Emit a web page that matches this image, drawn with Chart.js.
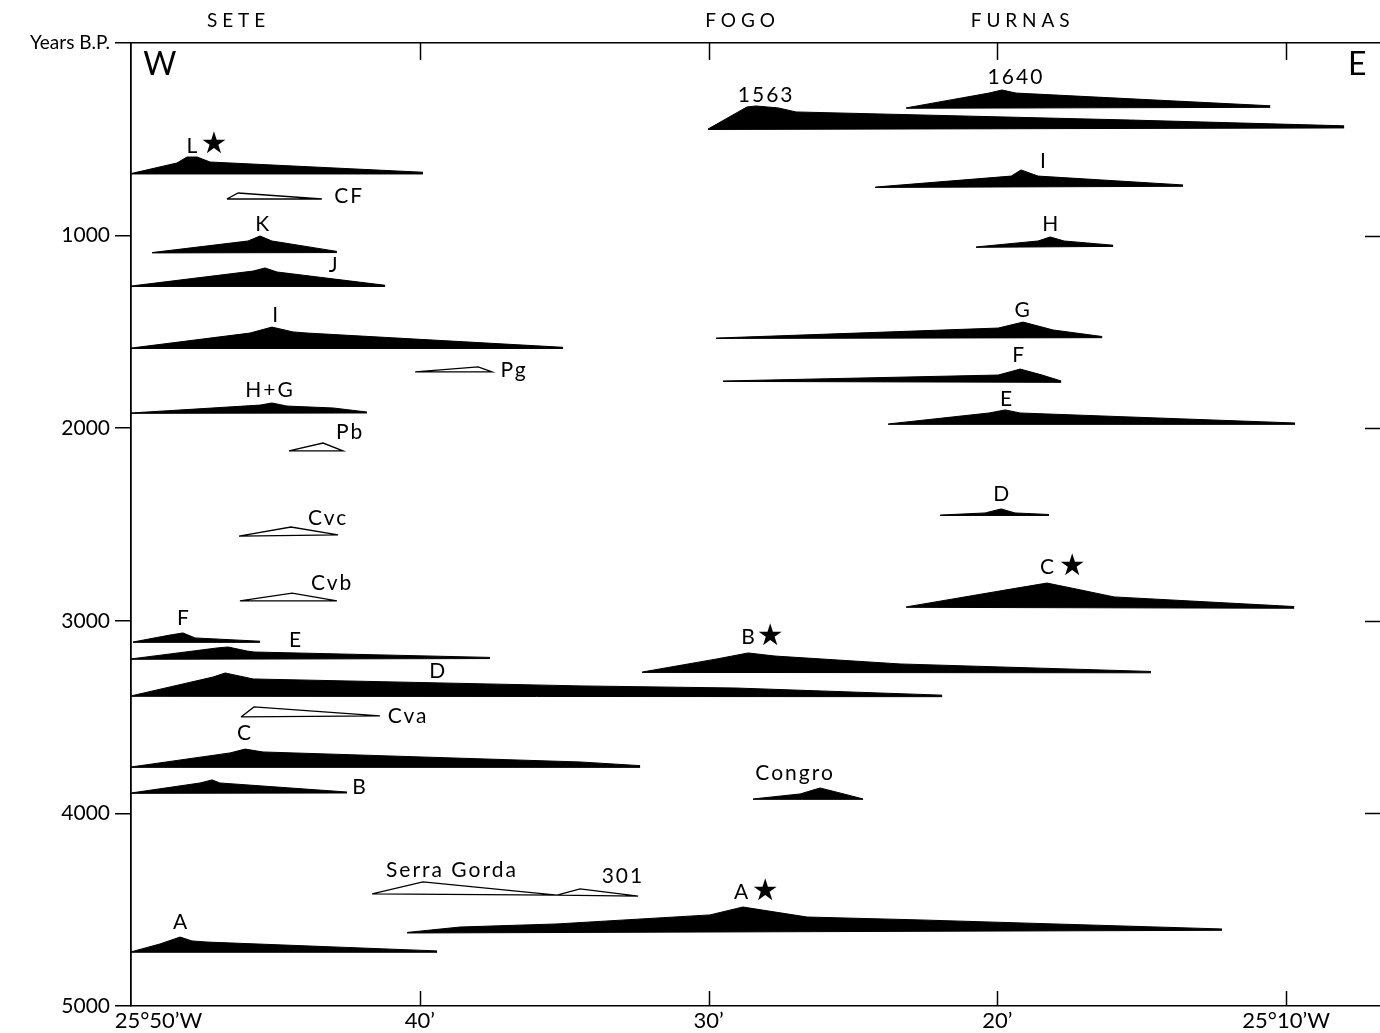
<!DOCTYPE html>
<html>
<head>
<meta charset="utf-8">
<script src="https://cdn.jsdelivr.net/npm/chart.js@4.4.1/dist/chart.umd.min.js"></script>
<style>
  html, body { margin: 0; padding: 0; background: #fff; }
  #wrap { width: 1380px; height: 1033px; position: relative; }
</style>
</head>
<body>
<div id="wrap"><canvas id="c"></canvas></div>
<script>
// ---------- axis definitions (longitude in minutes west of 25°, years B.P.) ----------
const xTickValues = [50, 40, 30, 20, 10];
const xTickLabels = ['\u2002\u2002\u2002\u2002\u200225°50’W', '40’', '30’', '20’', '25°10’W'];
const xInnerTicks = [40, 30, 20, 10];
const yTickValues = [0, 1000, 2000, 3000, 4000, 5000];
const yTickLabels = ['Years B.P.', '1000', '2000', '3000', '4000', '5000'];
const yInnerTicks = [1000, 2000, 3000, 4000];
const volcanoNames = ['S E T E', 'F O G O', 'F U R N A S'];
const volcanoLon = [46.36, 28.91, 19.21];

// ---------- filled eruption profiles: top outline and base line, [lon, years B.P.] ----------
const filledNames = ['L', 'K', 'J', 'I (Sete)', 'H+G', 'F (Sete)', 'E (Sete)', 'D (Sete)', 'C (Sete)', 'B (Sete)', 'A (Sete)',
  '1563', '1640', 'I (Furnas)', 'H (Furnas)', 'G (Furnas)', 'F (Furnas)', 'E (Furnas)', 'D (Furnas)', 'C (Furnas)',
  'B (Fogo)', 'Congro', 'A (Fogo)'];
const filledTops = [
  [[50, 678], [48.41, 623], [48.06, 592], [47.71, 592], [47.26, 618], [39.89, 671]],
  [[49.27, 1088], [45.95, 1028], [45.53, 1002], [45.12, 1028], [42.87, 1082]],
  [[50, 1262], [45.77, 1184], [45.36, 1168], [44.94, 1189], [41.20, 1258]],
  [[50, 1584], [45.88, 1506], [45.12, 1475], [44.39, 1500], [43.90, 1506], [35.04, 1580]],
  [[50, 1921], [45.53, 1880], [45.12, 1869], [44.60, 1885], [43.00, 1895], [41.83, 1916]],
  [[49.93, 3110], [48.65, 3074], [48.20, 3063], [47.78, 3089], [45.53, 3106]],
  [[50, 3198], [47.02, 3141], [46.64, 3136], [45.98, 3157], [45.74, 3162], [37.57, 3190]],
  [[50, 3390], [47.16, 3292], [46.74, 3271], [45.77, 3302], [34.45, 3338], [29.05, 3349], [21.91, 3386]],
  [[50, 3759], [46.57, 3686], [46.05, 3666], [45.43, 3681], [34.45, 3733], [32.37, 3752]],
  [[50, 3894], [47.61, 3842], [47.19, 3826], [46.92, 3842], [42.52, 3889]],
  [[50, 4719], [49.00, 4678], [48.30, 4642], [47.89, 4662], [47.37, 4668], [39.40, 4714]],
  [[30.02, 447], [28.67, 332], [28.36, 327], [27.59, 337], [26.97, 358], [15.40, 400], [7.99, 430]],
  [[23.16, 337], [20.29, 260], [19.84, 244], [19.35, 260], [10.55, 326]],
  [[24.23, 748], [19.52, 691], [19.18, 659], [18.59, 691], [13.57, 737]],
  [[20.74, 1059], [18.59, 1028], [18.17, 1007], [17.69, 1028], [15.99, 1050]],
  [[29.74, 1532], [19.97, 1480], [19.11, 1449], [18.07, 1490], [16.37, 1524]],
  [[29.50, 1755], [19.97, 1724], [19.21, 1693], [18.45, 1724], [17.79, 1755]],
  [[23.78, 1978], [20.29, 1921], [19.73, 1905], [19.21, 1921], [9.69, 1973]],
  [[21.98, 2451], [20.42, 2440], [19.87, 2419], [19.39, 2440], [18.21, 2448]],
  [[23.16, 2928], [19.32, 2830], [18.28, 2804], [17.27, 2835], [15.96, 2876], [9.72, 2926]],
  [[32.30, 3266], [29.71, 3198], [28.63, 3167], [27.70, 3183], [23.37, 3224], [14.68, 3263]],
  [[28.46, 3925], [26.83, 3899], [26.14, 3868], [25.45, 3894], [24.65, 3925]],
  [[40.44, 4618], [38.61, 4590], [35.25, 4574], [29.95, 4527], [28.81, 4486], [26.59, 4538], [22.68, 4553], [12.22, 4600]]
];
const filledBases = [
  [[50, 680], [39.89, 680]],
  [[49.27, 1090], [42.87, 1088]],
  [[50, 1264], [41.20, 1264]],
  [[50, 1586], [35.04, 1586]],
  [[50, 1923], [41.83, 1921]],
  [[49.93, 3112], [45.53, 3112]],
  [[50, 3200], [37.57, 3196]],
  [[50, 3392], [21.91, 3394]],
  [[50, 3761], [32.37, 3761]],
  [[50, 3896], [42.52, 3894]],
  [[50, 4721], [39.40, 4721]],
  [[30.02, 449], [7.99, 441]],
  [[23.16, 339], [10.55, 334]],
  [[24.23, 750], [13.57, 744]],
  [[20.74, 1061], [15.99, 1056]],
  [[29.74, 1534], [16.37, 1530]],
  [[29.50, 1757], [17.79, 1762]],
  [[23.78, 1980], [9.69, 1980]],
  [[21.98, 2453], [18.21, 2453]],
  [[23.16, 2930], [9.72, 2935]],
  [[32.30, 3268], [14.68, 3270]],
  [[28.46, 3927], [24.65, 3927]],
  [[40.44, 4621], [12.22, 4607]]
];

// ---------- open (outlined) profiles ----------
const outlineNames = ['CF', 'Pg', 'Pb', 'Cvc', 'Cvb', 'Cva', 'Serra Gorda', '301'];
const outlinePts = [
  [[46.68, 810], [46.29, 779], [43.39, 810], [46.68, 810]],
  [[40.16, 1708], [37.98, 1682], [37.50, 1708], [40.16, 1708]],
  [[44.53, 2118], [43.35, 2077], [42.66, 2118], [44.53, 2118]],
  [[46.26, 2560], [44.46, 2513], [42.83, 2554], [46.26, 2560]],
  [[46.23, 2897], [44.42, 2856], [42.87, 2897], [46.23, 2897]],
  [[46.19, 3499], [45.74, 3447], [41.38, 3494], [46.19, 3499]],
  [[41.65, 4418], [39.89, 4356], [35.25, 4424], [41.65, 4418]],
  [[35.25, 4424], [34.45, 4392], [32.44, 4429], [35.25, 4424]]
];

// ---------- text labels ----------
const labelTexts = ['L', 'CF', 'K', 'J', 'I', 'Pg', 'H+G', 'Pb', 'Cvc', 'Cvb', 'F', 'E', 'D', 'Cva', 'C', 'B',
  'Serra Gorda', '301', 'A', '1563', '1640', 'I', 'H', 'G', 'F', 'E', 'D', 'C', 'B', 'Congro', 'A'];
const labelLon = [47.89, 42.48, 45.46, 43.00, 45.01, 36.77, 45.22, 42.45, 43.21, 43.07, 48.20, 44.32, 39.40, 40.44, 46.09, 42.10,
  38.92, 33.00, 48.30, 28.04, 19.39, 18.42, 18.17, 19.14, 19.28, 19.70, 19.87, 18.28, 28.63, 27.04, 28.87];
const labelYr = [535, 794, 940, 1153, 1412, 1700, 1802, 2020, 2466, 2804, 2985, 3100, 3261, 3494, 3582, 3863,
  4294, 4325, 4564, 270, 177, 613, 940, 1386, 1620, 1848, 2342, 2721, 3084, 3790, 4408];
const starLon = [47.13, 17.41, 27.87, 28.04];
const starYr = [530, 2721, 3084, 4408];
const compassTexts = ['W', 'E'];
const compassLon = [49.00, 7.54];
const compassYr = [114, 114];

const FONT = 'Lato, "Open Sans", "DejaVu Sans", sans-serif';
const toXY = pts => pts.map(p => ({x: p[0], y: p[1]}));

const datasets = [];
filledNames.forEach((n, i) => {
  datasets.push({label: n + ' base', data: toXY(filledBases[i]), borderColor: '#000', borderWidth: 1,
    pointRadius: 0, fill: false, tension: 0});
  datasets.push({label: n, data: toXY(filledTops[i]), borderColor: '#000', borderWidth: 1,
    pointRadius: 0, fill: '-1', backgroundColor: '#000', tension: 0});
});
outlineNames.forEach((n, i) => {
  datasets.push({label: n, data: toXY(outlinePts[i]), borderColor: '#000', borderWidth: 1.3,
    pointRadius: 0, fill: false, tension: 0});
});

const bgPlugin = {
  id: 'bg',
  beforeDraw(chart) {
    const c = chart.ctx; c.save(); c.fillStyle = '#fff';
    c.fillRect(0, 0, chart.width, chart.height); c.restore();
  }
};

const annotPlugin = {
  id: 'annot',
  afterDraw(chart) {
    const c = chart.ctx, xs = chart.scales.x, ys = chart.scales.y, a = chart.chartArea;
    c.save();
    c.strokeStyle = '#000'; c.lineWidth = 1.5;
    xInnerTicks.forEach(v => {
      const px = Math.round(xs.getPixelForValue(v)) + 0.5;
      c.beginPath(); c.moveTo(px, a.top); c.lineTo(px, a.top + 17); c.stroke();
      c.beginPath(); c.moveTo(px, a.bottom); c.lineTo(px, a.bottom - 15); c.stroke();
    });
    yInnerTicks.forEach(v => {
      const py = Math.round(ys.getPixelForValue(v)) + 0.5;
      c.beginPath(); c.moveTo(a.right - 15, py); c.lineTo(a.right, py); c.stroke();
    });
    c.fillStyle = '#000'; c.textAlign = 'center'; c.textBaseline = 'middle';
    c.font = '21px ' + FONT;
    try { c.letterSpacing = '2px'; } catch (e) {}
    labelTexts.forEach((t, i) => {
      c.fillText(t, xs.getPixelForValue(labelLon[i]) + 1, ys.getPixelForValue(labelYr[i]));
    });
    try { c.letterSpacing = '0px'; } catch (e) {}
    c.font = '30px "DejaVu Sans", sans-serif';
    starLon.forEach((v, i) => {
      c.fillText('\u2605', xs.getPixelForValue(v), ys.getPixelForValue(starYr[i]));
    });
    c.font = '32px ' + FONT;
    compassTexts.forEach((t, i) => {
      c.fillText(t, xs.getPixelForValue(compassLon[i]), ys.getPixelForValue(compassYr[i]));
    });
    c.restore();
  }
};

new Chart(document.getElementById('c'), {
  type: 'line',
  data: {datasets},
  options: {
    responsive: true, maintainAspectRatio: false, animation: false, devicePixelRatio: 1,
    events: [],
    layout: {padding: 0},
    plugins: {legend: {display: false}, tooltip: {enabled: false}},
    elements: {point: {radius: 0, hoverRadius: 0}, line: {tension: 0}},
    scales: {
      x: {
        type: 'linear', position: 'bottom', reverse: true, min: 6.75, max: 50,
        afterBuildTicks: s => { s.ticks = xTickValues.map(v => ({value: v})); },
        afterFit: s => { s.height = 27; },
        grid: {display: false, drawTicks: false},
        border: {display: true, color: '#000', width: 1.5},
        ticks: {
          autoSkip: false, maxRotation: 0, padding: 2, color: '#000',
          font: {family: FONT, size: 22},
          callback: (v) => xTickLabels[xTickValues.indexOf(v)]
        }
      },
      x2: {
        type: 'linear', axis: 'x', position: 'top', reverse: true, min: 6.75, max: 50,
        afterBuildTicks: s => { s.ticks = volcanoLon.map(v => ({value: v})); },
        afterFit: s => { s.height = 43; },
        grid: {display: false, drawTicks: false},
        border: {display: true, color: '#000', width: 1.5},
        ticks: {
          autoSkip: false, maxRotation: 0, padding: 11, color: '#000',
          font: {family: FONT, size: 19},
          callback: (v) => volcanoNames[volcanoLon.indexOf(v)]
        }
      },
      y: {
        type: 'linear', position: 'left', reverse: true, min: 0, max: 5000,
        afterBuildTicks: s => { s.ticks = yTickValues.map(v => ({value: v})); },
        afterFit: s => { s.width = 131; },
        grid: {display: true, drawOnChartArea: false, drawTicks: true, tickLength: 16, color: '#000', lineWidth: 1.5},
        border: {display: true, color: '#000', width: 1.8},
        ticks: {
          autoSkip: false, padding: 5, color: '#000',
          font: (ctx) => (ctx.tick && ctx.tick.value === 0) ? {family: FONT, size: 19} : {family: FONT, size: 21},
          callback: (v) => yTickLabels[yTickValues.indexOf(v)]
        }
      }
    }
  },
  plugins: [bgPlugin, annotPlugin]
});
</script>
</body>
</html>
